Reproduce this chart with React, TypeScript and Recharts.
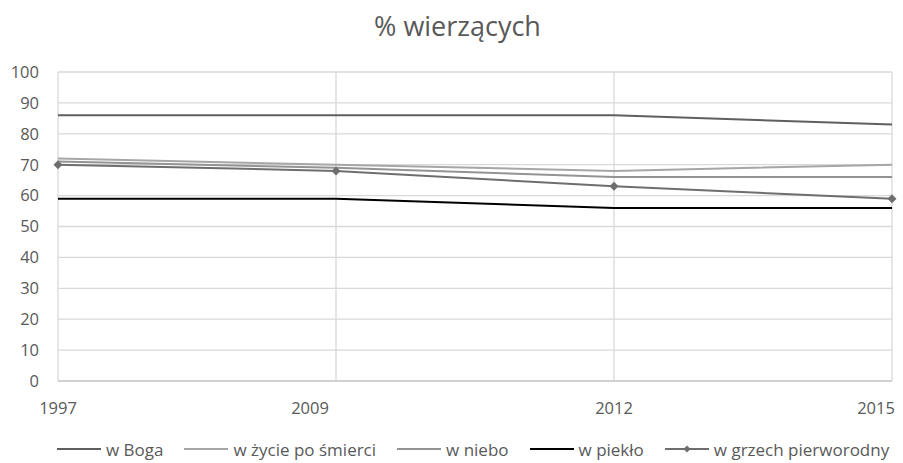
import { LineChart, Line, XAxis, YAxis, CartesianGrid, Legend } from 'recharts';

const years = ['1997', '2009', '2012', '2015'];
const wBoga = [86, 86, 86, 83];
const wZycie = [72, 70, 68, 70];
const wNiebo = [71, 69, 66, 66];
const wPieklo = [59, 59, 56, 56];
const wGrzech = [70, 68, 63, 59];
const yTicks = [0, 10, 20, 30, 40, 50, 60, 70, 80, 90, 100];

const data = years.map((year, i) => ({
  year,
  boga: wBoga[i],
  zycie: wZycie[i],
  niebo: wNiebo[i],
  pieklo: wPieklo[i],
  grzech: wGrzech[i],
}));

const FONT = '"Open Sans", sans-serif';
const TEXT = '#595959';
const MARKER = '#6e6e6e';

const series = [
  { key: 'boga', name: 'w Boga', color: '#5f5f5f' },
  { key: 'zycie', name: 'w życie po śmierci', color: '#a6a6a6' },
  { key: 'niebo', name: 'w niebo', color: '#939393' },
  { key: 'pieklo', name: 'w piekło', color: '#000000' },
  { key: 'grzech', name: 'w grzech pierworodny', color: MARKER },
];

const Diamond = (props: any) => {
  const { cx, cy } = props;
  if (cx == null || cy == null) return null;
  return <path d={`M${cx},${cy - 4.5}L${cx + 4.5},${cy}L${cx},${cy + 4.5}L${cx - 4.5},${cy}Z`} fill={MARKER} />;
};

// small nudges so the labels sit like in the original (last one kept inside the frame)
const tickShift: Record<string, number> = { '2009': -26, '2015': -11 };

const YearTick = (props: any) => {
  const { x, y, payload } = props;
  return (
    <text
      x={x + (tickShift[payload.value] ?? 0)}
      y={y}
      dy="0.71em"
      textAnchor="middle"
      fill={TEXT}
      fontSize={16.5}
      fontFamily={FONT}
    >
      {payload.value}
    </text>
  );
};

const renderLegend = () => (
  <div
    style={{
      display: 'flex',
      justifyContent: 'flex-start',
      gap: 21,
      fontFamily: FONT,
      fontSize: 17,
      color: TEXT,
      height: 22,
      alignItems: 'center',
      paddingLeft: 57,
      whiteSpace: 'nowrap',
    }}
  >
    {series.map((s) => (
      <div key={s.key} style={{ display: 'flex', alignItems: 'center' }}>
        <svg width={44} height={10}>
          <line x1={0} y1={5} x2={44} y2={5} stroke={s.color} strokeWidth={2} />
          {s.key === 'grzech' && <path d="M22,1.5L25.5,5L22,8.5L18.5,5Z" fill={s.color} />}
        </svg>
        <span style={{ marginLeft: 5 }}>{s.name}</span>
      </div>
    ))}
  </div>
);

export default function App() {
  return (
    <div style={{ position: 'absolute', left: 0, top: 0, width: 903, height: 463, background: '#fff' }}>
      <div
        style={{
          position: 'absolute',
          top: 8,
          width: 903,
          paddingLeft: 12,
          boxSizing: 'border-box',
          textAlign: 'center',
          fontFamily: FONT,
          fontSize: 27,
          lineHeight: '36px',
          color: TEXT,
        }}
      >
        % wierzących
      </div>
      <LineChart width={903} height={463} data={data} margin={{ top: 72, right: 11, left: 0, bottom: 3 }}>
        <CartesianGrid stroke="#d9d9d9" strokeWidth={1.3} />
        <XAxis
          dataKey="year"
          stroke="#bfbfbf"
          tickLine={false}
          tickSize={0}
          tickMargin={21}
          height={57}
          tick={<YearTick />}
          padding={{ left: 0, right: 0 }}
        />
        <YAxis
          domain={[0, 100]}
          ticks={yTicks}
          width={58}
          axisLine={false}
          tickLine={false}
          tickSize={0}
          tickMargin={19}
          interval={0}
          tick={{ fill: TEXT, fontSize: 16.5, fontFamily: FONT }}
        />
        <Legend verticalAlign="bottom" content={renderLegend} />
        {series.map((s) => (
          <Line
            key={s.key}
            type="linear"
            dataKey={s.key}
            name={s.name}
            stroke={s.color}
            strokeWidth={2}
            dot={s.key === 'grzech' ? <Diamond /> : false}
            activeDot={false}
            isAnimationActive={false}
          />
        ))}
      </LineChart>
    </div>
  );
}
